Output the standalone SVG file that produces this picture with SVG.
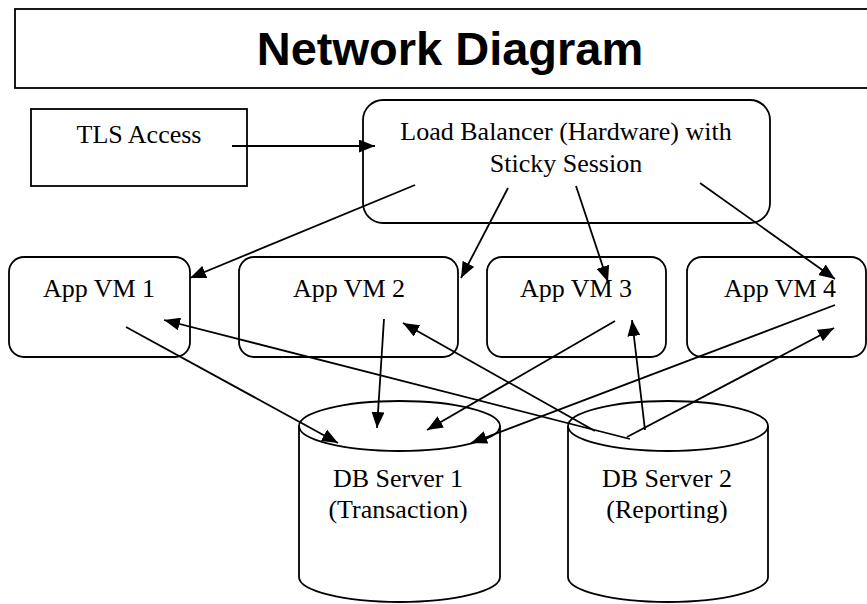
<svg xmlns="http://www.w3.org/2000/svg" width="867" height="604" viewBox="0 0 867 604">
<defs>
<style>
.box{fill:#fff;stroke:#000;stroke-width:1.8}
.lbl{font-family:"Liberation Serif","Times New Roman",serif;font-size:26px;text-anchor:middle;fill:#000}
.title{font-family:"Liberation Sans",Arial,sans-serif;font-size:47px;font-weight:bold;text-anchor:middle;fill:#000}
.con line{stroke:#000;stroke-width:1.8;marker-end:url(#ah)}
</style>
<marker id="ah" viewBox="0 0 16 13" refX="16" refY="6.5" markerWidth="16" markerHeight="13" orient="auto" markerUnits="userSpaceOnUse">
<path d="M0,0 L16,6.5 L0,13 z" fill="#000"/>
</marker>
</defs>
<rect width="867" height="604" fill="#fff"/>
<g id="title">
<rect class="box" x="15" y="9" width="900" height="79"/>
<text class="title" x="450" y="65">Network Diagram</text>
</g>
<g id="tls">
<rect class="box" x="31" y="109" width="216" height="77"/>
<text class="lbl" x="139" y="143">TLS Access</text>
</g>
<g id="lb">
<rect class="box" x="363" y="100" width="407" height="123" rx="20" ry="20"/>
<text class="lbl" x="566" y="140">Load Balancer (Hardware) with</text>
<text class="lbl" x="566" y="172">Sticky Session</text>
</g>
<g id="vm1">
<rect class="box" x="9" y="257" width="181" height="100" rx="15" ry="15"/>
<text class="lbl" x="99" y="297">App VM 1</text>
</g>
<g id="vm2">
<rect class="box" x="239" y="257" width="219" height="100" rx="15" ry="15"/>
<text class="lbl" x="349" y="297">App VM 2</text>
</g>
<g id="vm3">
<rect class="box" x="487" y="257" width="179" height="100" rx="15" ry="15"/>
<text class="lbl" x="576" y="297">App VM 3</text>
</g>
<g id="vm4">
<rect class="box" x="687" y="257" width="179" height="100" rx="15" ry="15"/>
<text class="lbl" x="780" y="297">App VM 4</text>
</g>
<g id="db1">
<path class="box" d="M299,426 L299,577 A100.5,25 0 0 0 500,577 L500,426"/>
<ellipse class="box" cx="399.5" cy="426" rx="100.5" ry="25"/>
<text class="lbl" x="398" y="487">DB Server 1</text>
<text class="lbl" x="398" y="518">(Transaction)</text>
</g>
<g id="db2">
<path class="box" d="M568,426 L568,577 A100,25 0 0 0 768,577 L768,426"/>
<ellipse class="box" cx="668" cy="426" rx="100" ry="25"/>
<text class="lbl" x="667" y="487">DB Server 2</text>
<text class="lbl" x="667" y="518">(Reporting)</text>
</g>
<g id="connectors" class="con">
<line x1="232" y1="146" x2="375" y2="146"/>
<line x1="415" y1="185" x2="190" y2="278"/>
<line x1="508" y1="188" x2="461" y2="278"/>
<line x1="576" y1="186" x2="608" y2="282"/>
<line x1="700" y1="183" x2="835" y2="279"/>
<line x1="126" y1="327" x2="338" y2="443"/>
<line x1="384" y1="319" x2="377" y2="428"/>
<line x1="615" y1="321" x2="427" y2="430"/>
<line x1="835" y1="305" x2="471" y2="443"/>
<line x1="630" y1="439" x2="164" y2="320"/>
<line x1="595" y1="431" x2="403" y2="323"/>
<line x1="645" y1="430" x2="632" y2="320"/>
<line x1="627" y1="437" x2="834" y2="328"/>
</g>
</svg>
